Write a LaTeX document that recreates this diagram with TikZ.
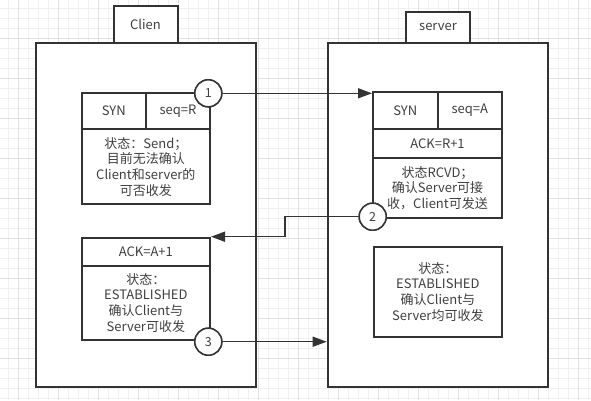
\documentclass[tikz,border=0pt]{standalone}
\usepackage{fontspec}
\setmainfont{Noto Sans CJK SC}
\usetikzlibrary{arrows.meta}
\definecolor{ink}{HTML}{333333}
\definecolor{txt}{HTML}{404040}
\definecolor{gminor}{HTML}{F0F0F0}
\definecolor{gmajor}{HTML}{E2E2E2}
\tikzset{
  cell/.style={draw=ink, line width=2pt, fill=white, inner sep=0pt, align=center,
    text=txt, font=\fontsize{13}{15.7}\selectfont},
  num/.style={circle, draw=ink, line width=1.5pt, fill=white, minimum size=27pt,
    inner sep=0pt, text=txt, font=\fontsize{12.5}{14}\selectfont},
  conn/.style={draw=ink, line width=1.5pt, -{Triangle[length=14pt,width=10pt]}},
}
\begin{document}
\begin{tikzpicture}[x=1pt,y=-1pt]
\useasboundingbox (0,0) rectangle (591,400);
% grid
\foreach \i in {0,...,59} {\draw[gminor, line width=1pt] (8+10*\i,0) -- (8+10*\i,400);}
\foreach \i in {0,...,39} {\draw[gminor, line width=1pt] (0,8+10*\i) -- (591,8+10*\i);}
\foreach \i in {0,...,14} {\draw[gmajor, line width=1pt] (18+40*\i,0) -- (18+40*\i,400);}
\foreach \i in {0,...,9} {\draw[gmajor, line width=1pt] (0,-2+40*\i) -- (591,-2+40*\i);}
% tabs and outer boxes
\node[cell, minimum width=64pt, minimum height=37.5pt] (ctab) at (145.5,24.5) {Clien};
\node[cell, minimum width=64pt, minimum height=31.3pt] (stab) at (438,27.35) {server};
\node[cell, minimum width=220pt, minimum height=344pt] (cbox) at (146,215) {};
\node[cell, minimum width=220.6pt, minimum height=344pt] (sbox) at (438,215) {};
% client SYN
\node[cell, minimum width=64.3pt, minimum height=36.6pt] (synC) at (113.85,111) {SYN};
\node[cell, minimum width=64pt, minimum height=36.6pt] (seqC) at (178,111) {seq=R};
\node[cell, minimum width=128.3pt, minimum height=74.7pt] (stC) at (145.85,166.65)
  {状态：Send；\\目前无法确认\\Client和server的\\可否收发};
% server SYN/ACK
\node[cell, minimum width=64.7pt, minimum height=37.6pt] (synS) at (405.35,110.5) {SYN};
\node[cell, minimum width=64.3pt, minimum height=37.6pt] (seqS) at (469.85,110.5) {seq=A};
\node[cell, minimum width=129pt, minimum height=28.4pt] (ackS) at (437.5,143.5) {ACK=R+1};
\node[cell, minimum width=129pt, minimum height=60.6pt] (stS) at (437.5,188)
  {状态RCVD；\\确认Server可接\\收，Client可发送};
% client ACK
\node[cell, minimum width=128.3pt, minimum height=28pt] (ackC) at (145.85,251.7) {ACK=A+1};
\node[cell, minimum width=128.3pt, minimum height=74.3pt] (stC2) at (145.85,302.85)
  {状态：\\ESTABLISHED\\确认Client与\\Server可收发};
% server established
\node[cell, minimum width=128.3pt, minimum height=90pt] (estS) at (437.85,291.7)
  {状态：\\ESTABLISHED\\确认Client与\\Server均可收发};
% circles
\node[num] (c1) at (208.3,93.3) {1};
\node[num] (c2) at (372.7,216.7) {2};
\node[num] (c3) at (208.3,341.7) {3};
\coordinate (bend) at (285,230);
% connectors
\draw[conn] (c1.east) -- (c1.east -| synS.west);
\draw[conn] (c2.west) -- (c2.west -| bend) |- (ackC.north east);
\draw[conn] (c3.east) -- (c3.east -| sbox.west);
% redraw circles on top
\node[num] at (c1) {1};
\node[num] at (c2) {2};
\node[num] at (c3) {3};
\end{tikzpicture}
\end{document}
